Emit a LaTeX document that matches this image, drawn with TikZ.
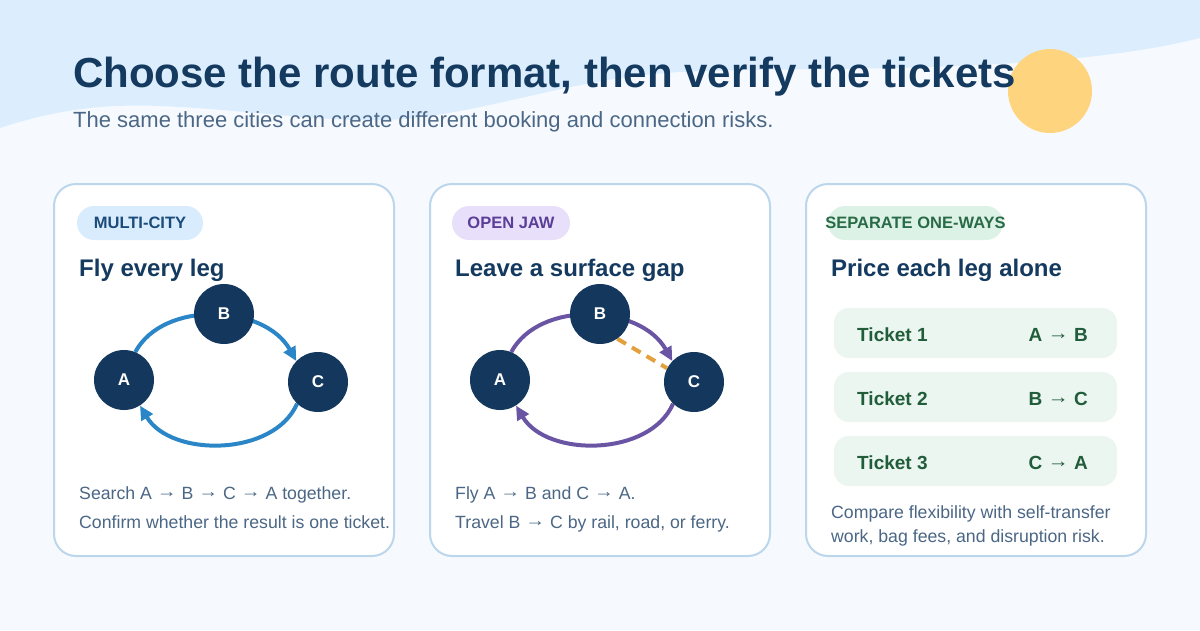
\documentclass[tikz,border=0pt]{standalone}
\usepackage{fontspec}
\usepackage{graphicx}
\setmainfont{Liberation Sans}
\usetikzlibrary{arrows.meta}
\definecolor{bgcol}{HTML}{F6FAFF}
\definecolor{wavecol}{HTML}{DCEDFD}
\definecolor{suncol}{HTML}{FFD47E}
\definecolor{navy}{HTML}{143A5F}
\definecolor{subcol}{HTML}{4B6785}
\definecolor{cardline}{HTML}{BCD6EB}
\definecolor{nodecol}{HTML}{14385D}
\definecolor{bluearc}{HTML}{2A86C6}
\definecolor{purparc}{HTML}{6A55A5}
\definecolor{dashcol}{HTML}{E3A03C}
\definecolor{pillAfill}{HTML}{D9ECFD}
\definecolor{pillAtext}{HTML}{1A4B7A}
\definecolor{pillBfill}{HTML}{E8E0FA}
\definecolor{pillBtext}{HTML}{5A3E97}
\definecolor{pillCfill}{HTML}{DDF2E6}
\definecolor{pillCtext}{HTML}{2A6B47}
\definecolor{tixfill}{HTML}{EAF6EF}
\definecolor{tixtext}{HTML}{215C3B}
\newcommand\rarr{\raisebox{0.07em}{\scalebox{1.12}[1]{→}}}
\pgfdeclarelayer{front}
\pgfsetlayers{main,front}
\begin{document}
\begin{tikzpicture}[x=1pt,y=-1pt,
  card/.style={fill=white,draw=cardline,line width=2pt,rounded corners=22pt},
  pillbox/.style={rounded corners=17pt},
  pilltext/.style={font=\fontsize{16.5}{20}\selectfont\bfseries,inner sep=0pt},
  heading/.style={anchor=base west,inner sep=0pt,text=navy,font=\fontsize{24}{28}\selectfont\bfseries},
  body/.style={anchor=base west,inner sep=0pt,text=subcol,font=\fontsize{17.7}{22}\selectfont},
  city/.style={circle,fill=nodecol,minimum size=60pt,inner sep=0pt,text=white,font=\fontsize{17}{20}\selectfont\bfseries},
  route/.style={line width=4pt,-{Triangle[length=14pt,width=13pt]}},
  gap/.style={line width=4pt,dashcol,dash pattern=on 10pt off 7pt},
  tixbox/.style={fill=tixfill,rounded corners=15pt},
  tixlabel/.style={inner sep=0pt,text=tixtext,font=\fontsize{19}{22}\selectfont\bfseries}
]
\useasboundingbox (0,0) rectangle (1200,630);
\fill[bgcol] (0,0) rectangle (1200,630);
\fill[wavecol] (0,0) -- (0,128) .. controls (60,108) and (110,104) .. (160,106)
  .. controls (260,110) and (350,128) .. (430,116)
  .. controls (520,102.5) and (580,78) .. (680,72)
  .. controls (800,66) and (1050,76) .. (1200,38) -- (1200,0) -- cycle;
\fill[suncol] (1050,91) circle (42);
\node[anchor=base west,inner sep=0pt,text=navy,font=\fontsize{42}{48}\selectfont\bfseries] (title) at (73,87) {Choose the route format, then verify the tickets};
\node[anchor=base west,inner sep=0pt,text=subcol,font=\fontsize{22}{26}\selectfont] (subtitle) at (73,127) {The same three cities can create different booking and connection risks.};

% cards
\draw[card] (54,184) rectangle (394,556);
\draw[card] (430,184) rectangle (770,556);
\draw[card] (806,184) rectangle (1146,556);

% card 1
\fill[pillbox,pillAfill] (77,206) rectangle (203,240);
\node[pilltext,text=pillAtext] (pill1) at (140,223) {MULTI-CITY};
\node[heading] (head1) at (79,276) {Fly every leg};
\begin{pgfonlayer}{front}
\node[city] (A1) at (124,380) {A};
\node[city] (B1) at (224,314) {B};
\node[city] (C1) at (318,382) {C};
\end{pgfonlayer}
\draw[route,bluearc] (A1.68) .. controls +(28,-52) and +(-32,-57) .. (C1.136);
\draw[route,bluearc] (C1.-134) .. controls +(-23,53) and +(31,52) .. (A1.-58);
\node[body] (text1a) at (79,499) {Search A \rarr{} B \rarr{} C \rarr{} A together.};
\node[body] (text1b) at (79,528) {Confirm whether the result is one ticket.};

% card 2
\fill[pillbox,pillBfill] (452,206) rectangle (570,240);
\node[pilltext,text=pillBtext] (pill2) at (511,223) {OPEN JAW};
\node[heading] (head2) at (455,276) {Leave a surface gap};
\begin{pgfonlayer}{front}
\node[city] (A2) at (500,380) {A};
\node[city] (B2) at (600,314) {B};
\node[city] (C2) at (694,382) {C};
\end{pgfonlayer}
\draw[route,purparc] (A2.68) .. controls +(28,-52) and +(-32,-57) .. (C2.136);
\draw[route,purparc] (C2.-134) .. controls +(-23,53) and +(31,52) .. (A2.-58);
\draw[gap] (B2.-55) -- (C2.153);
\node[body] (text2a) at (455,499) {Fly A \rarr{} B and C \rarr{} A.};
\node[body] (text2b) at (455,528) {Travel B \rarr{} C by rail, road, or ferry.};

% card 3
\fill[pillbox,pillCfill] (828,206) rectangle (1003,240);
\node[pilltext,text=pillCtext] (pill3) at (915.5,223) {SEPARATE ONE-WAYS};
\node[heading] (head3) at (831,276) {Price each leg alone};
\fill[tixbox] (834,308) rectangle (1117,358);
\fill[tixbox] (834,372) rectangle (1117,422);
\fill[tixbox] (834,436) rectangle (1117,486);
\node[tixlabel,anchor=base west] (t1) at (857,341) {Ticket 1};
\node[tixlabel,anchor=base east] (r1) at (1088,341) {A \rarr{} B};
\node[tixlabel,anchor=base west] (t2) at (857,405) {Ticket 2};
\node[tixlabel,anchor=base east] (r2) at (1088,405) {B \rarr{} C};
\node[tixlabel,anchor=base west] (t3) at (857,469) {Ticket 3};
\node[tixlabel,anchor=base east] (r3) at (1088,469) {C \rarr{} A};
\node[body] (text3a) at (831,518) {Compare flexibility with self-transfer};
\node[body] (text3b) at (831,542) {work, bag fees, and disruption risk.};
\end{tikzpicture}
\end{document}
